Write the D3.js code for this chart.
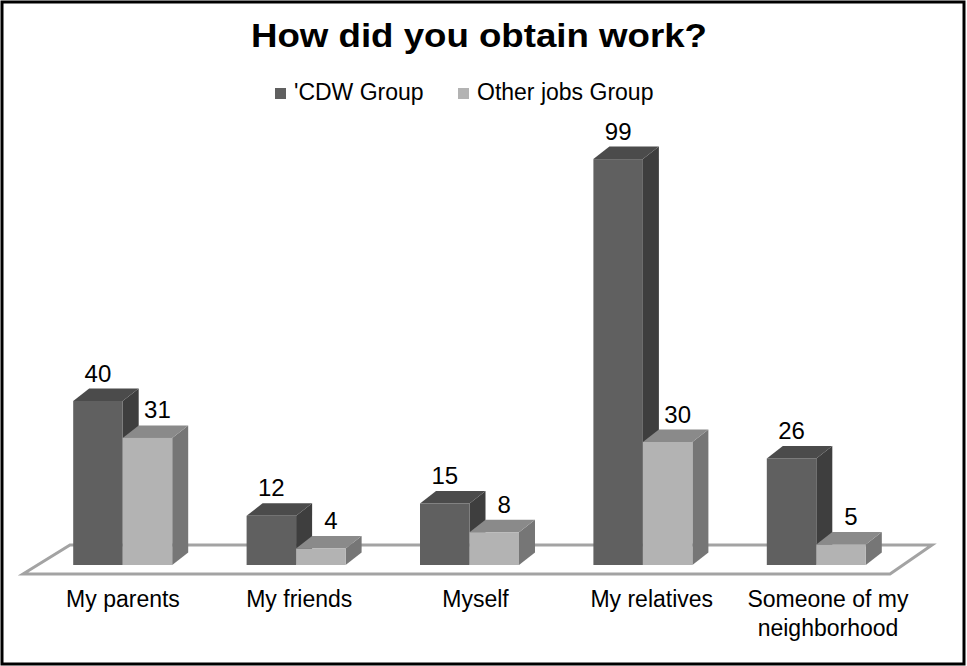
<!DOCTYPE html>
<html>
<head>
<meta charset="utf-8">
<script src="https://cdn.jsdelivr.net/npm/d3@7"></script>
<style>
  html, body { margin: 0; padding: 0; background: #fff; }
  svg { display: block; font-family: "Liberation Sans", Arial, sans-serif; }
</style>
</head>
<body>
<svg id="chart" width="967" height="666"></svg>
<script>
// Survey answers: how respondents obtained their work
const categories = ["My parents", "My friends", "Myself", "My relatives", "Someone of my neighborhood"];
const seriesNames = ["'CDW Group", "Other jobs Group"];
const cdwValues = [40, 12, 15, 99, 26];
const otherValues = [31, 4, 8, 30, 5];
const title = "How did you obtain work?";

const seriesValues = [cdwValues, otherValues];
const palette = [
  { front: "#606060", top: "#4b4b4b", side: "#3e3e3e" },
  { front: "#b3b3b3", top: "#8a8a8a", side: "#767676" }
];

const svg = d3.select("#chart");
const W = 967, H = 666;

// Outer frame
svg.append("rect")
  .attr("x", 2).attr("y", 2).attr("width", W - 5).attr("height", H - 4)
  .attr("fill", "#fff").attr("stroke", "#000").attr("stroke-width", 3);

// Scales
const x0 = 36, x1 = 903;
const xCat = d3.scaleBand().domain(categories).range([x0, x1]).padding(0);
const groupW = 99;
const y = d3.scaleLinear().domain([0, 100]).range([565, 155]);
const base = y(0);
const depth = { dx: 16, dy: -12.5 };

// Floor (3D plane the bars stand on)
const floor = [
  [x0 - 13, base + 9],
  [x0 + 34, base - 20],
  [x1 + 29, base - 20],
  [x1 - 13, base + 9]
];
svg.append("polygon")
  .attr("points", floor.map(p => p.join(",")).join(" "))
  .attr("fill", "#fff")
  .attr("stroke", "#a3a3a3")
  .attr("stroke-width", 3)
  .attr("stroke-linejoin", "miter");

// Bars
const plot = svg.append("g");
categories.forEach((cat, i) => {
  const xs = d3.scaleBand().domain(seriesNames)
    .range([xCat(cat) + xCat.bandwidth() / 2 - groupW / 2, xCat(cat) + xCat.bandwidth() / 2 + groupW / 2]);
  seriesNames.forEach((s, k) => {
    const v = seriesValues[k][i];
    const bx = xs(s), bw = xs.bandwidth();
    const yt = y(v);
    const c = palette[k];
    const g = plot.append("g");
    g.append("polygon")
      .attr("points", [[bx + bw, yt], [bx + bw + depth.dx, yt + depth.dy], [bx + bw + depth.dx, base + depth.dy], [bx + bw, base]].map(p => p.join(",")).join(" "))
      .attr("fill", c.side);
    g.append("polygon")
      .attr("points", [[bx, yt], [bx + depth.dx, yt + depth.dy], [bx + bw + depth.dx, yt + depth.dy], [bx + bw, yt]].map(p => p.join(",")).join(" "))
      .attr("fill", c.top);
    g.append("rect")
      .attr("x", bx).attr("y", yt).attr("width", bw).attr("height", base - yt)
      .attr("fill", c.front);
    // value label above the bar
    g.append("text")
      .attr("x", bx + bw / 2 + (k === 1 ? 10 : 0))
      .attr("y", yt + depth.dy - 7)
      .attr("text-anchor", "middle")
      .attr("font-size", 24)
      .attr("fill", "#000")
      .text(v);
  });
});

// Category labels along the front of the floor
const xLabel = d3.scalePoint().domain(categories).range([123, 828]);
const wrap = { "Someone of my neighborhood": ["Someone of my", "neighborhood"] };
categories.forEach(cat => {
  const lines = wrap[cat] || [cat];
  const t = svg.append("text")
    .attr("x", xLabel(cat))
    .attr("y", 607)
    .attr("text-anchor", "middle")
    .attr("font-size", 23)
    .attr("fill", "#000");
  lines.forEach((ln, j) => {
    t.append("tspan").attr("x", xLabel(cat)).attr("dy", j === 0 ? 0 : 29).text(ln);
  });
});

// Title
svg.append("text")
  .attr("x", 479).attr("y", 47)
  .attr("text-anchor", "middle")
  .attr("font-size", 34)
  .attr("font-weight", "bold")
  .attr("textLength", 456)
  .attr("lengthAdjust", "spacingAndGlyphs")
  .attr("fill", "#000")
  .text(title);

// Legend
const legendX = [275, 458];
seriesNames.forEach((s, k) => {
  svg.append("rect")
    .attr("x", legendX[k]).attr("y", 88).attr("width", 11).attr("height", 11)
    .attr("fill", palette[k].front);
  svg.append("text")
    .attr("x", legendX[k] + 19).attr("y", 100)
    .attr("font-size", 23)
    .attr("fill", "#000")
    .text(s);
});
</script>
</body>
</html>
